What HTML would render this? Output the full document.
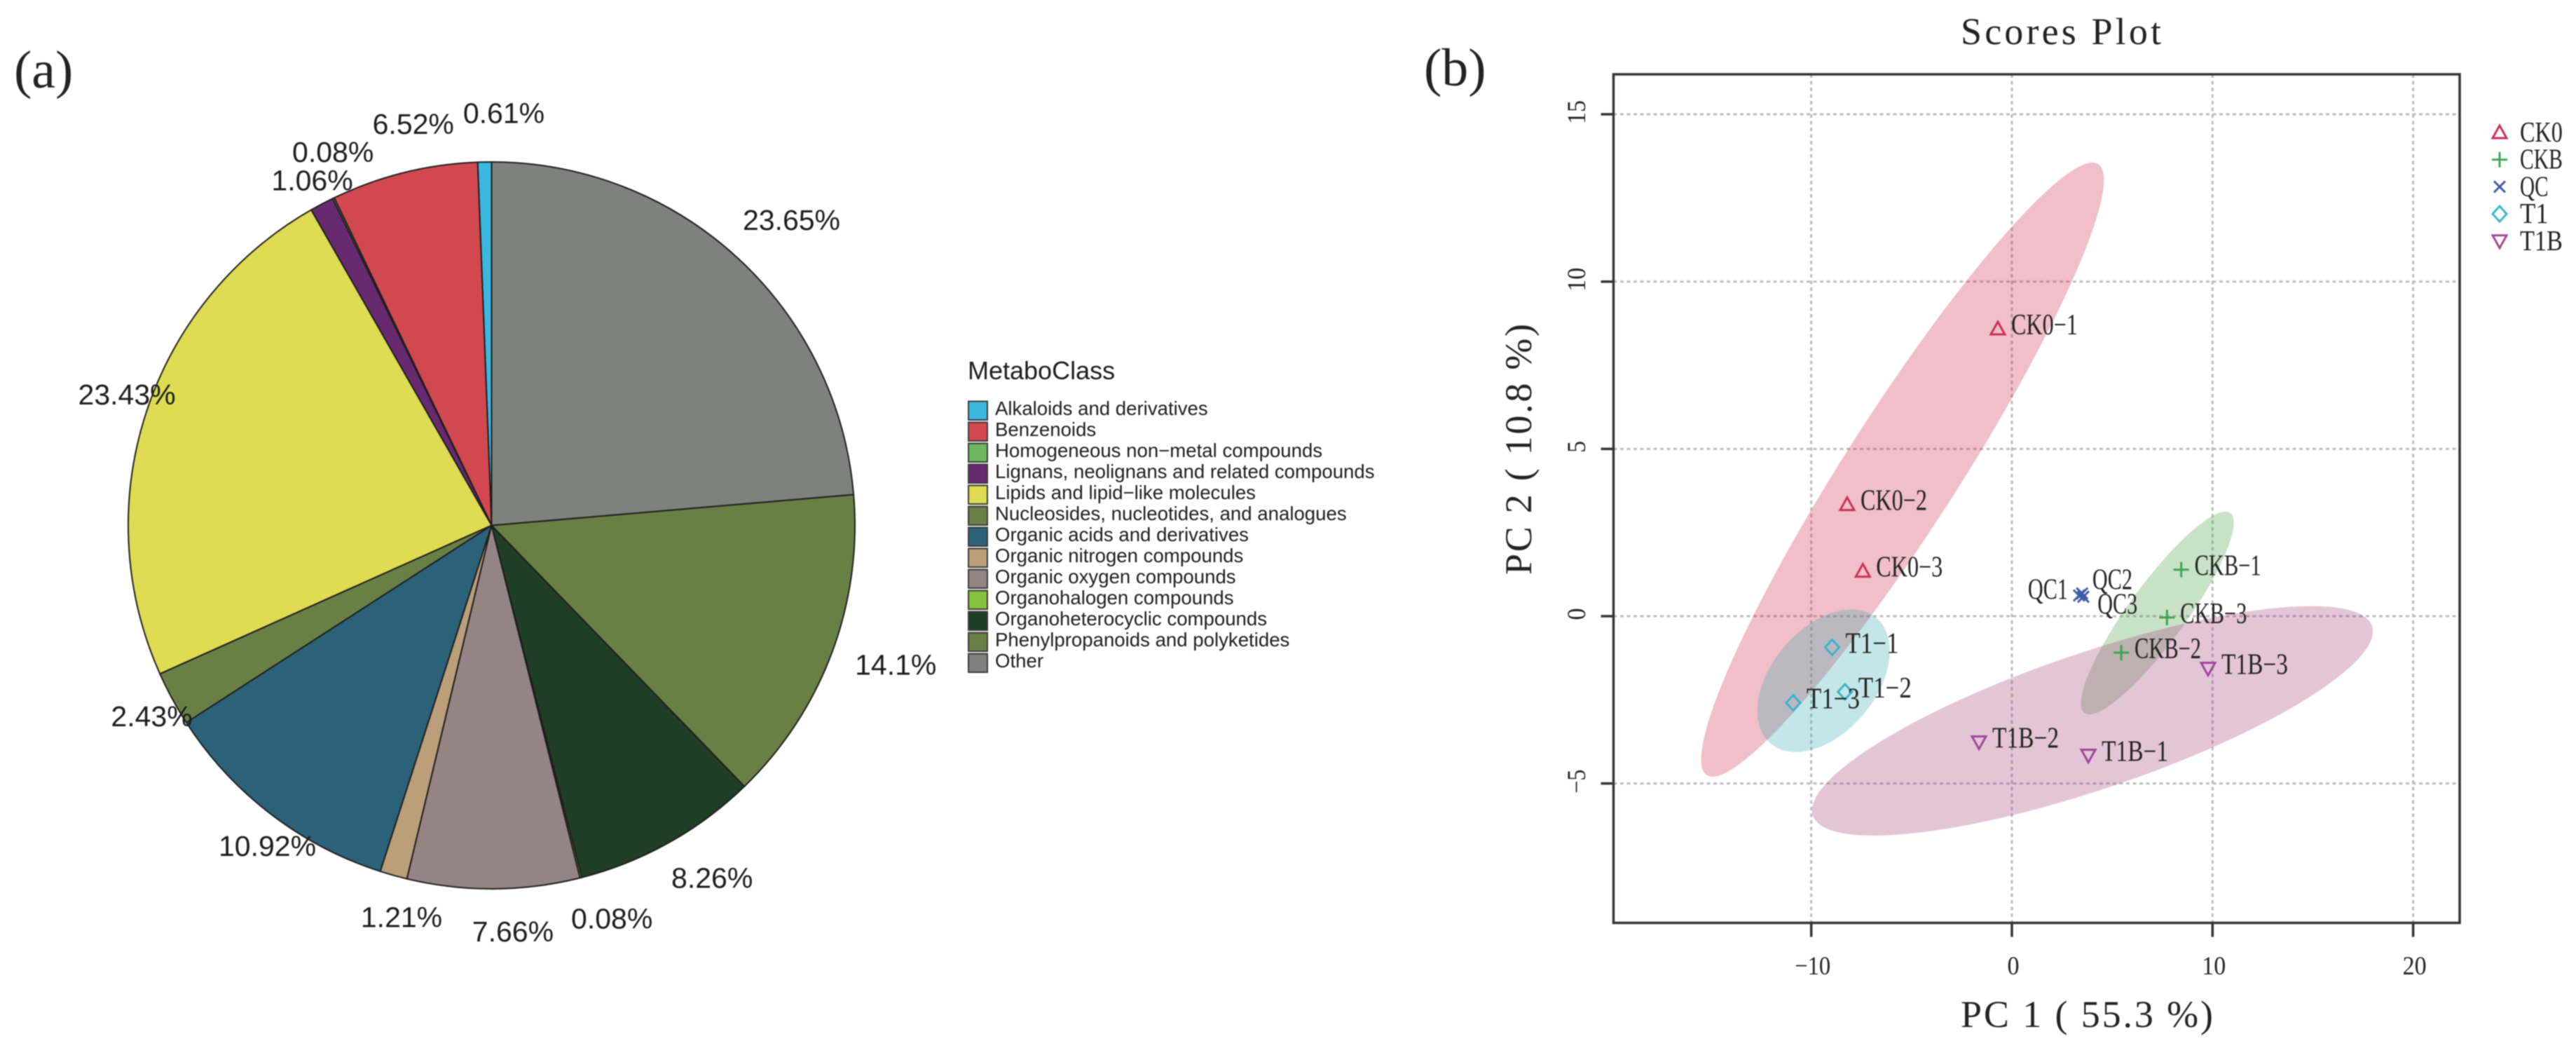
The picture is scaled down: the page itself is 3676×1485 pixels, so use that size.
<!DOCTYPE html>
<html lang="en">
<head>
<meta charset="utf-8">
<title>Metabolite class composition and PCA scores plot</title>
<style>
  html, body { margin: 0; padding: 0; background: #ffffff; }
  #figure { display: block; width: 3676px; height: 1485px; filter: blur(0.7px); }
  .sans { font-family: "Liberation Sans", Arial, sans-serif; fill: #1c1c1c; }
  .serif { font-family: "Liberation Serif", "Noto Serif CJK SC", serif; fill: #222222; }
</style>
</head>
<body>
<svg id="figure" xmlns="http://www.w3.org/2000/svg" width="3676" height="1485" viewBox="0 0 3676 1485">
  <rect x="0" y="0" width="3676" height="1485" fill="#ffffff"/>
  <text class="serif" x="20" y="125" font-size="76">(a)</text>
  <text class="serif" x="2032" y="122" font-size="76">(b)</text>

  <g id="pie-slices"></g>
  <g id="pie-labels"></g>

  <g id="pie-legend">
    <text class="sans" x="1381" y="541" font-size="36">MetaboClass</text>
  </g>

  <g id="scores-plot">
    <text class="serif" x="2941" y="63" font-size="54" text-anchor="middle" textLength="286" lengthAdjust="spacing">Scores Plot</text>
    <g id="grid-lines"></g>
    <g id="ellipses"></g>
    <g id="axis-ticks"></g>
    <g id="points"></g>
    <g id="point-labels"></g>
    <rect x="2302.5" y="106" width="1207.5" height="1210.5" fill="none" stroke="#333333" stroke-width="3.5"/>
    <text class="serif" x="2978" y="1465" font-size="54" text-anchor="middle" textLength="360" lengthAdjust="spacing">PC 1 ( 55.3 %)</text>
    <text class="serif" transform="translate(2185 641) rotate(-90)" x="0" y="0" font-size="54" text-anchor="middle" textLength="358" lengthAdjust="spacing">PC 2 ( 10.8 %)</text>
    <g id="group-legend"></g>
  </g>
</svg>

<script>
/* ---------- Pie chart data (legend order) ---------- */
const classNames = [
  'Alkaloids and derivatives',
  'Benzenoids',
  'Homogeneous non\u2212metal compounds',
  'Lignans, neolignans and related compounds',
  'Lipids and lipid\u2212like molecules',
  'Nucleosides, nucleotides, and analogues',
  'Organic acids and derivatives',
  'Organic nitrogen compounds',
  'Organic oxygen compounds',
  'Organohalogen compounds',
  'Organoheterocyclic compounds',
  'Phenylpropanoids and polyketides',
  'Other'
];
const classPercents = [0.61, 6.52, 0.08, 1.06, 23.43, 2.43, 10.92, 1.21, 7.66, 0.08, 8.26, 14.1, 23.65];

/* ---------- Scores plot data ---------- */
const groupNames = ['CK0', 'CKB', 'QC', 'T1', 'T1B'];
const pointNames = ['CK0-1', 'CK0-2', 'CK0-3', 'CKB-1', 'CKB-2', 'CKB-3', 'QC1', 'QC2', 'QC3', 'T1-1', 'T1-2', 'T1-3', 'T1B-1', 'T1B-2', 'T1B-3'];
const pointGroups = ['CK0', 'CK0', 'CK0', 'CKB', 'CKB', 'CKB', 'QC', 'QC', 'QC', 'T1', 'T1', 'T1', 'T1B', 'T1B', 'T1B'];
const pointPC1 = [-0.70, -8.21, -7.43, 8.44, 5.45, 7.73, 3.35, 3.56, 3.50, -8.96, -8.32, -10.90, 3.81, -1.64, 9.78];
const pointPC2 = [8.59, 3.34, 1.35, 1.39, -1.09, -0.04, 0.62, 0.58, 0.68, -0.93, -2.26, -2.59, -4.16, -3.76, -1.56];

const ellipseGroups = ['CK0', 'T1', 'CKB', 'T1B'];
const ellipseMeanPC1 = [-5.45, -9.385, 7.25, 4.017];
const ellipseMeanPC2 = [4.38, -1.93, 0.094, -3.128];
const ellipseSpreadPC1 = [10.04, 3.30, 3.81, 13.98];
const ellipseSpreadPC2 = [9.18, 2.13, 3.03, 3.43];
const ellipseCorrelation = [0.943, 0.42, 0.89, 0.78];

const xTickValues = [-10, 0, 10, 20];
const yTickValues = [-5, 0, 5, 10, 15];

/* ---------- Styles and layout (not data) ---------- */
const classColors = ['#3CB8DF', '#D1484E', '#6DB85F', '#672A70', '#DDDC52', '#698045', '#2A627A', '#BA9F78', '#948484', '#86C240', '#1F3E26', '#698045', '#7F817F'];
const labelAngleNudge = [2.8, 2.9, 2.8, 0.4, 1.7, -0.8, -2.5, -2.7, -2.7, -2.8, -2.8, -1.5, 1.9];
const labelRadius = [589, 584, 579, 555, 553, 556, 558, 573, 580, 586, 593, 610, 611];
const groupColors = { CK0: '#CC2F57', CKB: '#3EA552', QC: '#3F5BA9', T1: '#3BB4C8', T1B: '#A0459A' };
const ellipseFills = { CK0: 'rgb(205,42,68)', CKB: 'rgb(72,158,65)', T1: 'rgb(62,172,178)', T1B: 'rgb(165,62,125)' };

const SVG_NS = 'http://www.w3.org/2000/svg';
function make(tag, attrs, parent, content) {
  const node = document.createElementNS(SVG_NS, tag);
  for (const key in attrs) node.setAttribute(key, attrs[key]);
  if (content !== undefined) node.textContent = content;
  parent.appendChild(node);
  return node;
}
function slug(text) {
  return text.toLowerCase().replace(/[^a-z0-9]+/g, '-').replace(/^-|-$/g, '');
}

/* ---------- Pie ---------- */
const pieCx = 701.5, pieCy = 749.5, pieR = 518.5;
function polar(angleDeg, radius) {
  const a = angleDeg * Math.PI / 180;
  return [pieCx + radius * Math.sin(a), pieCy - radius * Math.cos(a)];
}
const percentTotal = classPercents.reduce(function (s, v) { return s + v; }, 0);
const sliceLayer = document.getElementById('pie-slices');
const pieLabelLayer = document.getElementById('pie-labels');
let runningPercent = 0;
classPercents.forEach(function (value, i) {
  const startAngle = -360 * runningPercent / percentTotal;
  runningPercent += value;
  const endAngle = -360 * runningPercent / percentTotal;
  const p0 = polar(startAngle, pieR);
  const p1 = polar(endAngle, pieR);
  const large = (startAngle - endAngle) > 180 ? 1 : 0;
  const d = 'M' + pieCx + ' ' + pieCy + ' L' + p0[0] + ' ' + p0[1] + ' A' + pieR + ' ' + pieR + ' 0 ' + large + ' 0 ' + p1[0] + ' ' + p1[1] + ' Z';
  const slice = make('path', { d: d, fill: classColors[i], stroke: '#1e1e1e', 'stroke-width': 2, 'stroke-linejoin': 'round' }, sliceLayer);
  
  

  const mid = (startAngle + endAngle) / 2 + labelAngleNudge[i];
  const lp = polar(mid, labelRadius[i]);
  const pct = make('text', { class: 'sans', x: lp[0], y: lp[1] + 14.5, 'font-size': 41, 'text-anchor': 'middle' }, pieLabelLayer, value + '%');
  
  
});

/* ---------- Pie legend ---------- */
const pieLegend = document.getElementById('pie-legend');
classNames.forEach(function (name, i) {
  const rowTop = 571.5 + i * 30;
  const swatch = make('rect', { x: 1382, y: rowTop + 1, width: 27, height: 26.5, fill: classColors[i], stroke: '#3a3a3a', 'stroke-width': 2 }, pieLegend);
  
  
  const entry = make('text', { class: 'sans', x: 1420, y: rowTop + 20.5, 'font-size': 27.6 }, pieLegend, name);
  
  
});

/* ---------- Scores plot axes ---------- */
const boxLeft = 2302.5, boxRight = 3510, boxTop = 106, boxBottom = 1316.5;
function scaleX(v) { return 2871 + 28.63 * v; }
function scaleY(v) { return 879 - 47.73 * v; }
function tickText(v) { return String(v).replace('-', '\u2212'); }

const gridLayer = document.getElementById('grid-lines');
const tickLayer = document.getElementById('axis-ticks');
const gridStyle = { stroke: '#bcbcbc', 'stroke-width': 3, 'stroke-dasharray': '5 4.5', fill: 'none' };
const tickStyle = { stroke: '#333333', 'stroke-width': 3.5 };

xTickValues.forEach(function (v) {
  const x = scaleX(v);
  const g = make('line', Object.assign({ x1: x, x2: x, y1: boxTop, y2: boxBottom }, gridStyle), gridLayer);
  
  
  const t = make('line', Object.assign({ x1: x, x2: x, y1: boxBottom, y2: boxBottom + 20 }, tickStyle), tickLayer);
  
  
  const s = tickText(v);
  const lab = make('text', { class: 'serif', x: x + 2, y: 1390, 'font-size': 37, 'text-anchor': 'middle', textLength: s.length * 17, lengthAdjust: 'spacingAndGlyphs' }, tickLayer, s);
  
  
});
yTickValues.forEach(function (v) {
  const y = scaleY(v);
  const g = make('line', Object.assign({ x1: boxLeft, x2: boxRight, y1: y, y2: y }, gridStyle), gridLayer);
  
  
  const t = make('line', Object.assign({ x1: boxLeft - 18, x2: boxLeft, y1: y, y2: y }, tickStyle), tickLayer);
  
  
  const s = tickText(v);
  const lab = make('text', { class: 'serif', transform: 'translate(2262 ' + (y - 3) + ') rotate(-90)', x: 0, y: 0, 'font-size': 37, 'text-anchor': 'middle', textLength: s.length * 17, lengthAdjust: 'spacingAndGlyphs' }, tickLayer, s);
  
  
});

/* ---------- Ellipses ---------- */
const ellipseLayer = document.getElementById('ellipses');
ellipseGroups.forEach(function (group, i) {
  const phase = Math.acos(ellipseCorrelation[i]);
  const pts = [];
  for (let k = 0; k < 120; k++) {
    const t = 2 * Math.PI * k / 120;
    const vx = ellipseMeanPC1[i] + ellipseSpreadPC1[i] * Math.cos(t);
    const vy = ellipseMeanPC2[i] + ellipseSpreadPC2[i] * Math.cos(t + phase);
    pts.push(scaleX(vx).toFixed(1) + ',' + scaleY(vy).toFixed(1));
  }
  const shape = make('polygon', { points: pts.join(' '), fill: ellipseFills[group], 'fill-opacity': 0.3, stroke: 'none' }, ellipseLayer);
  
  
});

/* ---------- Markers ---------- */
function markerPath(group, x, y) {
  if (group === 'CK0') return 'M' + (x - 10) + ' ' + (y + 8) + ' L' + (x + 10) + ' ' + (y + 8) + ' L' + x + ' ' + (y - 10) + ' Z';
  if (group === 'T1B') return 'M' + (x - 10) + ' ' + (y - 8) + ' L' + (x + 10) + ' ' + (y - 8) + ' L' + x + ' ' + (y + 10) + ' Z';
  if (group === 'T1') return 'M' + (x - 10) + ' ' + y + ' L' + x + ' ' + (y - 11) + ' L' + (x + 10) + ' ' + y + ' L' + x + ' ' + (y + 11) + ' Z';
  if (group === 'CKB') return 'M' + (x - 11) + ' ' + y + ' L' + (x + 11) + ' ' + y + ' M' + x + ' ' + (y - 11) + ' L' + x + ' ' + (y + 11);
  return 'M' + (x - 8) + ' ' + (y - 8) + ' L' + (x + 8) + ' ' + (y + 8) + ' M' + (x - 8) + ' ' + (y + 8) + ' L' + (x + 8) + ' ' + (y - 8);
}
const pointLayer = document.getElementById('points');
const pointLabelLayer = document.getElementById('point-labels');
const qcLabelOffsets = { QC1: [-73, -9], QC2: [13, -25], QC3: [22, 15] };
pointNames.forEach(function (name, i) {
  const group = pointGroups[i];
  const px = scaleX(pointPC1[i]);
  const py = scaleY(pointPC2[i]);
  const mark = make('path', { d: markerPath(group, px, py), fill: 'none', stroke: groupColors[group], 'stroke-width': 3 }, pointLayer);
  
  
  const off = qcLabelOffsets[name] || [19, -6];
  const lab = make('text', { class: 'serif', x: px + off[0], y: py + off[1] + 14, 'font-size': 42, textLength: name.length * 19, lengthAdjust: 'spacingAndGlyphs' }, pointLabelLayer, name.replace('-', '\u2212'));
  
  
});

/* ---------- Group legend ---------- */
const groupLegend = document.getElementById('group-legend');
groupNames.forEach(function (group, i) {
  const y = 189 + i * 38.7;
  const mark = make('path', { d: markerPath(group, 3567, y), fill: 'none', stroke: groupColors[group], 'stroke-width': 3 }, groupLegend);
  
  
  const lab = make('text', { class: 'serif', x: 3596, y: y + 13, 'font-size': 41, textLength: group.length * 20.3, lengthAdjust: 'spacingAndGlyphs' }, groupLegend, group);
  
  
});
</script>
</body>
</html>
